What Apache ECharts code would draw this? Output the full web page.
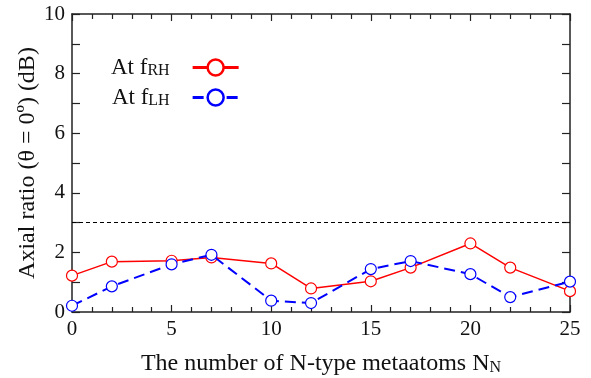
<!DOCTYPE html>
<html>
<head>
<meta charset="utf-8">
<script src="https://cdn.jsdelivr.net/npm/echarts@6/dist/echarts.min.js"></script>
<style>
html,body{margin:0;padding:0;background:#fff;}
#chart{width:591px;height:378px;}
</style>
</head>
<body>
<div id="chart"></div>
<script>
// ---- data ----
var nValues = [0, 2, 5, 7, 10, 12, 15, 17, 20, 22, 25];
var arRH = [1.22, 1.69, 1.72, 1.83, 1.63, 0.79, 1.03, 1.49, 2.30, 1.49, 0.70];
var arLH = [0.21, 0.86, 1.60, 1.92, 0.38, 0.30, 1.44, 1.71, 1.27, 0.50, 1.02];
var threshold = 3;
var xTicks = [0, 5, 10, 15, 20, 25];
var yTicks = [0, 2, 4, 6, 8, 10];

function pairs(xs, ys){ return xs.map(function(x,i){ return [x, ys[i]]; }); }

var FONT = 'Liberation Serif';
var AXC = '#222';

var chart = echarts.init(document.getElementById('chart'), null, {renderer:'canvas'});

function xAx(pos, showLabel){
  return {
    type:'value', position: pos, min: xTicks[0], max: xTicks[xTicks.length-1], interval: xTicks[1]-xTicks[0],
    axisLine:{show:true, onZero:false, lineStyle:{color:AXC, width:1.5}},
    axisTick:{show:true, inside:true, length:7, lineStyle:{color:AXC, width:1.2}},
    minorTick:{show:true, splitNumber:5, length:5, lineStyle:{color:AXC, width:1.2}},
    splitLine:{show:false}, minorSplitLine:{show:false},
    axisLabel:{show: showLabel, margin:7, color:'#111', fontFamily:FONT, fontSize:21},
    name: showLabel ? 'The number of N-type metaatoms N{s|N}' : '',
    nameLocation:'middle', nameGap:40, nameMoveOverlap:false,
    nameTextStyle:{color:'#111', fontFamily:FONT, fontSize:24, lineHeight:24,
      rich:{s:{fontFamily:FONT, fontSize:16, lineHeight:13, verticalAlign:'bottom', color:'#111'}}}
  };
}
function yAx(pos, showLabel){
  return {
    type:'value', position: pos, min: yTicks[0], max: yTicks[yTicks.length-1], interval: yTicks[1]-yTicks[0],
    axisLine:{show:true, onZero:false, lineStyle:{color:AXC, width:1.5}},
    axisTick:{show:true, inside:true, length:8, lineStyle:{color:AXC, width:1.2}},
    minorTick:{show:true, splitNumber:2, length:8, lineStyle:{color:AXC, width:1.2}},
    splitLine:{show:false}, minorSplitLine:{show:false},
    axisLabel:{show: showLabel, margin:7, color:'#111', fontFamily:FONT, fontSize:21},
    name: showLabel ? 'Axial ratio (\u03b8 = 0\u00ba) (dB)' : '',
    nameLocation:'middle', nameGap:32, nameRotate:90, nameMoveOverlap:false,
    nameTextStyle:{color:'#111', fontFamily:FONT, fontSize:24}
  };
}

var legendRich = {
  a:{fontFamily:FONT, fontSize:23, lineHeight:22, color:'#111'},
  s:{fontFamily:FONT, fontSize:16, lineHeight:12, verticalAlign:'bottom', color:'#111'},
  g:{width:18}
};

var option = {
  backgroundColor:'#fff',
  animation:false,
  grid:{left:72, right:21, top:14, bottom:66, containLabel:false, outerBoundsMode:'none'},
  xAxis:[xAx('bottom', true), xAx('top', false)],
  yAxis:[yAx('left', true), yAx('right', false)],
  legend:{
    orient:'vertical', left:106, top:51, align:'right',
    itemWidth:46, itemHeight:20, itemGap:7,
    lineStyle:{width:3},
    itemStyle:{borderWidth:2.5},
    data:['RH','LH'],
    formatter:function(name){ return '{a|At f}{s|' + name + '}{g|}'; },
    textStyle:{rich:legendRich}
  },
  series:[
    {
      name:'RH', type:'line', data:pairs(nValues, arRH), xAxisIndex:0, yAxisIndex:0,
      symbol:'circle', symbolSize:11, showAllSymbol:true,
      lineStyle:{color:'#ff0000', width:1.5},
      itemStyle:{color:'#ffffff', borderColor:'#ff0000', borderWidth:1.2},
      z:3,
      markLine:{
        silent:true, symbol:['none','none'], label:{show:false},
        lineStyle:{color:'#000', width:1, type:[4,3]},
        data:[{yAxis:threshold}]
      }
    },
    {
      name:'LH', type:'line', data:pairs(nValues, arLH), xAxisIndex:0, yAxisIndex:0,
      symbol:'circle', symbolSize:11, showAllSymbol:true,
      lineStyle:{color:'#0000ff', width:2, type:[11,6]},
      itemStyle:{color:'#ffffff', borderColor:'#0000ff', borderWidth:1.2},
      z:4
    }
  ]
};
chart.setOption(option);
</script>
</body>
</html>
